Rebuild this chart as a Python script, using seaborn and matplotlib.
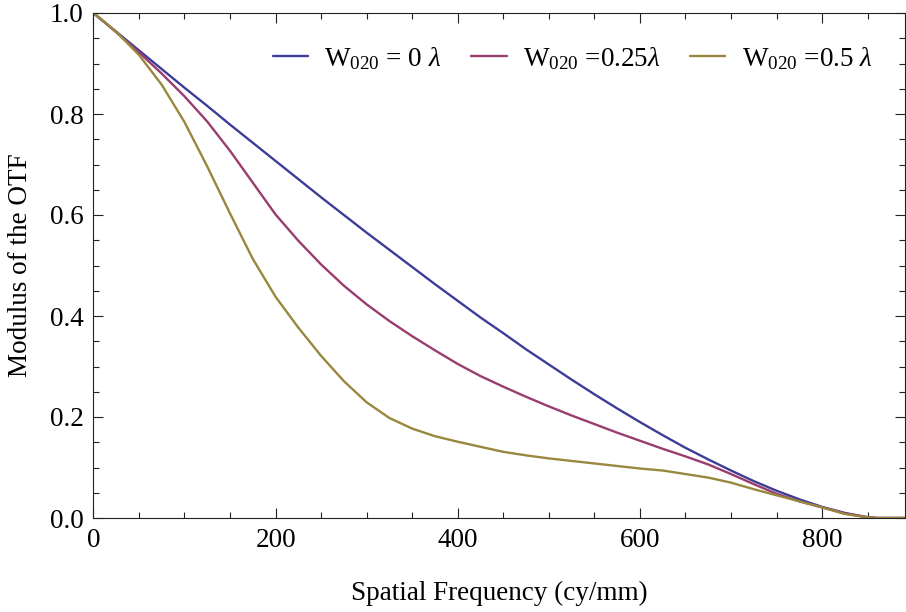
import numpy as np
import pandas as pd
import matplotlib
matplotlib.use("Agg")
import matplotlib.pyplot as plt
from matplotlib.ticker import MultipleLocator, FormatStrFormatter
import seaborn as sns

freq = [0, 25, 50, 75, 100, 125, 150, 175, 200, 225, 250, 275, 300, 325, 350, 375,
        400, 425, 450, 475, 500, 525, 550, 575, 600, 625, 650, 675, 700, 725, 750,
        775, 800, 825, 850, 860, 891]

mtf_w0 = [1.000, 0.963, 0.926, 0.889, 0.852, 0.816, 0.779, 0.743, 0.707, 0.671, 0.635,
          0.600, 0.565, 0.531, 0.497, 0.463, 0.430, 0.397, 0.366, 0.334, 0.304, 0.274,
          0.245, 0.217, 0.190, 0.164, 0.139, 0.116, 0.094, 0.073, 0.054, 0.037, 0.022,
          0.010, 0.0015, 0.0, 0.0]

mtf_w025 = [1.000, 0.962, 0.922, 0.880, 0.835, 0.785, 0.727, 0.664, 0.601, 0.549, 0.502,
            0.460, 0.423, 0.390, 0.360, 0.332, 0.305, 0.281, 0.260, 0.240, 0.221, 0.203,
            0.186, 0.169, 0.153, 0.137, 0.122, 0.106, 0.087, 0.067, 0.048, 0.033, 0.021,
            0.009, 0.0015, 0.0, 0.0]

mtf_w05 = [1.000, 0.963, 0.917, 0.858, 0.784, 0.696, 0.603, 0.513, 0.438, 0.377, 0.321,
           0.271, 0.229, 0.198, 0.177, 0.162, 0.151, 0.141, 0.131, 0.124, 0.118, 0.113,
           0.108, 0.103, 0.098, 0.094, 0.087, 0.080, 0.070, 0.057, 0.045, 0.033, 0.021,
           0.008, 0.001, 0.0, 0.0]

labels = [r"W$_{020}$ = 0 $\lambda$",
          r"W$_{020}$ =0.25$\lambda$",
          r"W$_{020}$ =0.5 $\lambda$"]
colors = ["#3D3D99", "#993D6F", "#99873D"]

df = pd.concat([
    pd.DataFrame({"freq": freq, "mtf": vals, "case": lab})
    for vals, lab in zip([mtf_w0, mtf_w025, mtf_w05], labels)
], ignore_index=True)

sns.set_style("ticks")
plt.rcParams["font.family"] = ["Liberation Serif", "DejaVu Serif"]
plt.rcParams["mathtext.fontset"] = "custom"
plt.rcParams["mathtext.rm"] = "Liberation Serif"
plt.rcParams["mathtext.it"] = "Liberation Serif:italic"
plt.rcParams["mathtext.bf"] = "Liberation Serif:bold"
plt.rcParams["text.color"] = "black"
plt.rcParams["axes.labelcolor"] = "black"
plt.rcParams["xtick.labelcolor"] = "black"
plt.rcParams["ytick.labelcolor"] = "black"

FS = 19.5

fig = plt.figure(figsize=(9.06, 6.12), dpi=100)
ax = fig.add_axes([93.4 / 906, 1 - 518 / 612, (905 - 93.4) / 906, (518 - 13) / 612])

sns.lineplot(data=df, x="freq", y="mtf", hue="case", palette=colors,
             hue_order=labels, linewidth=1.7, ax=ax, legend=True, sort=True)

ax.set_xlim(0, 891)
ax.set_ylim(0, 1.0)
ax.xaxis.set_major_locator(MultipleLocator(200))
ax.xaxis.set_minor_locator(MultipleLocator(50))
ax.yaxis.set_major_locator(MultipleLocator(0.2))
ax.yaxis.set_minor_locator(MultipleLocator(0.05))
ax.yaxis.set_major_formatter(FormatStrFormatter("%.1f"))

ax.tick_params(which="both", direction="in", top=True, right=True,
               color="#222222", width=0.8, labelsize=FS, pad=7,
               labelcolor="black")
ax.tick_params(which="major", length=7.5)
ax.tick_params(which="minor", length=4)
for s in ax.spines.values():
    s.set_visible(True)
    s.set_color("#222222")
    s.set_linewidth(0.8)

ax.set_xlabel("Spatial Frequency (cy/mm)", fontsize=FS, labelpad=20, color="black")
ax.set_ylabel("Modulus of the OTF", fontsize=FS, labelpad=12, color="black")

handles, labs = ax.get_legend_handles_labels()
leg = ax.legend(handles, labs, ncol=3, loc="upper right", frameon=False,
                fontsize=FS, handlelength=1.3, columnspacing=1.1,
                handletextpad=0.6, bbox_to_anchor=(0.99, 0.985))
for t in leg.get_texts():
    t.set_color("black")

fig.savefig("out.png", dpi=100)
